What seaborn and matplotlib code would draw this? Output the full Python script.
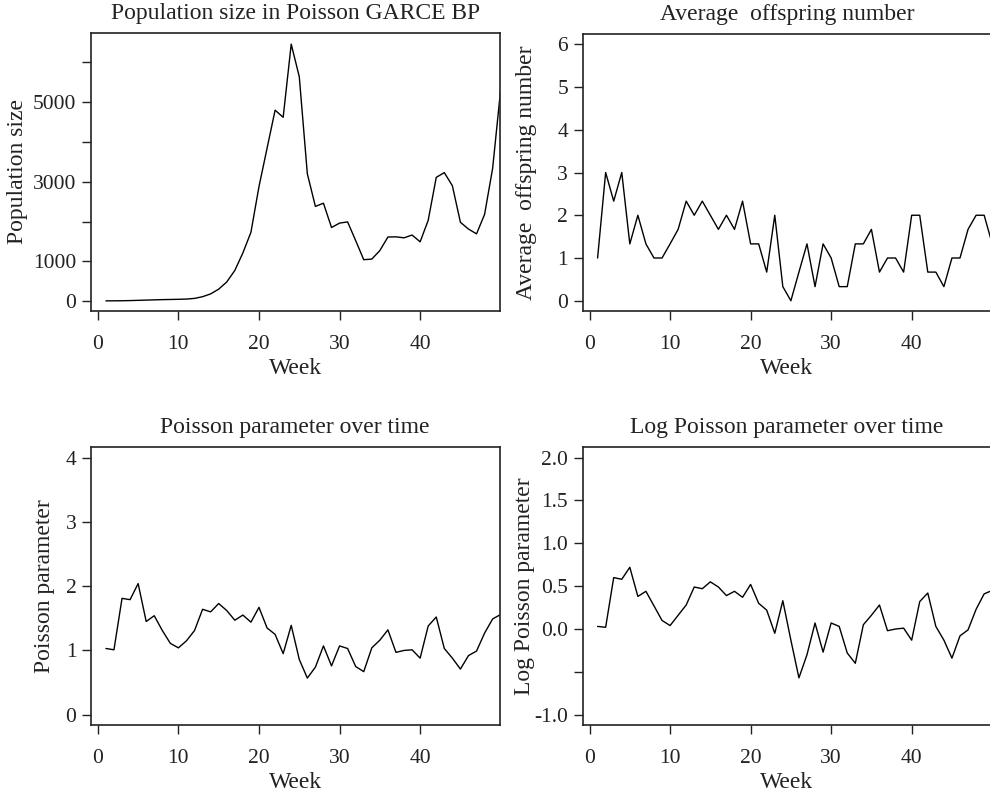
import seaborn as sns
import matplotlib.pyplot as plt

# Werte (Woche 50 nur angeschnitten)
weeks = list(range(1, 51))

pop_size = [5, 6, 8, 12, 18, 24, 30, 36, 40, 44,
            50, 67, 110, 180, 300, 480, 770, 1210, 1730, 2880,
            3840, 4800, 4620, 6460, 5640, 3200, 2380, 2460, 1850, 1960,
            1990, 1520, 1040, 1055, 1270, 1610, 1615, 1590, 1660, 1490,
            2030, 3110, 3230, 2900, 1980, 1810, 1690, 2180, 3340, 5330]

avg_offspring = [1, 3, 2.33, 3, 1.33, 2, 1.33, 1, 1, 1.33,
                 1.67, 2.33, 2, 2.33, 2, 1.67, 2, 1.67, 2.33, 1.33,
                 1.33, 0.67, 2, 0.33, 0, 0.67, 1.33, 0.33, 1.33, 1,
                 0.33, 0.33, 1.33, 1.33, 1.67, 0.67, 1, 1, 0.67, 2,
                 2, 0.67, 0.67, 0.33, 1, 1, 1.67, 2, 2, 1.33]

poisson_par = [1.03, 1.01, 1.81, 1.79, 2.04, 1.45, 1.54, 1.31, 1.11, 1.04,
               1.15, 1.31, 1.64, 1.60, 1.73, 1.62, 1.47, 1.55, 1.44, 1.67,
               1.35, 1.25, 0.95, 1.39, 0.86, 0.57, 0.74, 1.07, 0.76, 1.07,
               1.03, 0.75, 0.67, 1.04, 1.16, 1.32, 0.97, 1.00, 1.01, 0.88,
               1.38, 1.52, 1.03, 0.88, 0.71, 0.92, 0.99, 1.27, 1.49, 1.56]

log_poisson_par = [0.03, 0.02, 0.60, 0.58, 0.72, 0.38, 0.44, 0.27, 0.10, 0.04,
                   0.16, 0.28, 0.49, 0.47, 0.55, 0.49, 0.39, 0.44, 0.37, 0.52,
                   0.30, 0.22, -0.05, 0.33, -0.13, -0.57, -0.30, 0.07, -0.27, 0.07,
                   0.03, -0.28, -0.40, 0.05, 0.16, 0.28, -0.02, 0.00, 0.01, -0.13,
                   0.32, 0.42, 0.03, -0.13, -0.34, -0.08, -0.01, 0.23, 0.41, 0.45]

x_ticks = [0, 10, 20, 30, 40]

sns.set_theme(style="ticks")
plt.rcParams['font.family'] = ['Liberation Serif', 'DejaVu Serif']

fig = plt.figure(figsize=(9.9, 7.94), dpi=100)

W, H = 990, 794


def make_ax(left, top, right, bottom):
    return fig.add_axes([left / W, 1 - bottom / H, (right - left) / W, (bottom - top) / H])


ax1 = make_ax(91, 33, 499.5, 311)
ax2 = make_ax(582.7, 34, 991, 311)
ax3 = make_ax(91, 447.3, 499.5, 725)
ax4 = make_ax(582.7, 447.3, 991, 725)

# ax, werte, titel, y-label, ylim, yticks, ytick-labels, x-position y-label
panels = [
    (ax1, pop_size, "Population size in Poisson GARCE BP", "Population size",
     (-250, 6740), [0, 1000, 2000, 3000, 4000, 5000, 6000],
     ["0", "1000", "", "3000", "", "5000", ""], -0.155),
    (ax2, avg_offspring, "Average  offspring number", "Average  offspring number",
     (-0.24, 6.24), [0, 1, 2, 3, 4, 5, 6],
     ["0", "1", "2", "3", "4", "5", "6"], -0.112),
    (ax3, poisson_par, "Poisson parameter over time", "Poisson parameter",
     (-0.16, 4.16), [0, 1, 2, 3, 4],
     ["0", "1", "2", "3", "4"], -0.089),
    (ax4, log_poisson_par, "Log Poisson parameter over time", "Log Poisson parameter",
     (-1.12, 2.12), [-1.0, -0.5, 0.0, 0.5, 1.0, 1.5, 2.0],
     ["-1.0", "", "0.0", "0.5", "1.0", "1.5", "2.0"], -0.118),
]

for ax, values, title, ylab, ylim, yt, ytl, ylab_x in panels:
    sns.lineplot(x=weeks, y=values, ax=ax, color="black", linewidth=1.0)
    ax.set_xlim(-0.85, 49.85)
    ax.set_ylim(*ylim)
    ax.set_xticks(x_ticks)
    ax.set_xticklabels([str(t) for t in x_ticks])
    ax.set_yticks(yt)
    ax.set_yticklabels(ytl)
    ax.set_title(title, fontsize=17, color="#222222", pad=10)
    ax.set_xlabel("Week", fontsize=17, color="#222222", labelpad=3)
    ax.set_ylabel(ylab, fontsize=17, color="#222222")
    ax.yaxis.set_label_coords(ylab_x, 0.5)
    ax.tick_params(axis="both", direction="out", length=6.5, width=1.0,
                   color="#222222", labelsize=15.5, labelcolor="#222222")
    ax.tick_params(axis="x", pad=11)
    ax.tick_params(axis="y", pad=4)
    for sp in ax.spines.values():
        sp.set_visible(True)
        sp.set_linewidth(1.2)
        sp.set_color("#222222")
    ax.grid(False)

plt.savefig("out.png", dpi=100)
